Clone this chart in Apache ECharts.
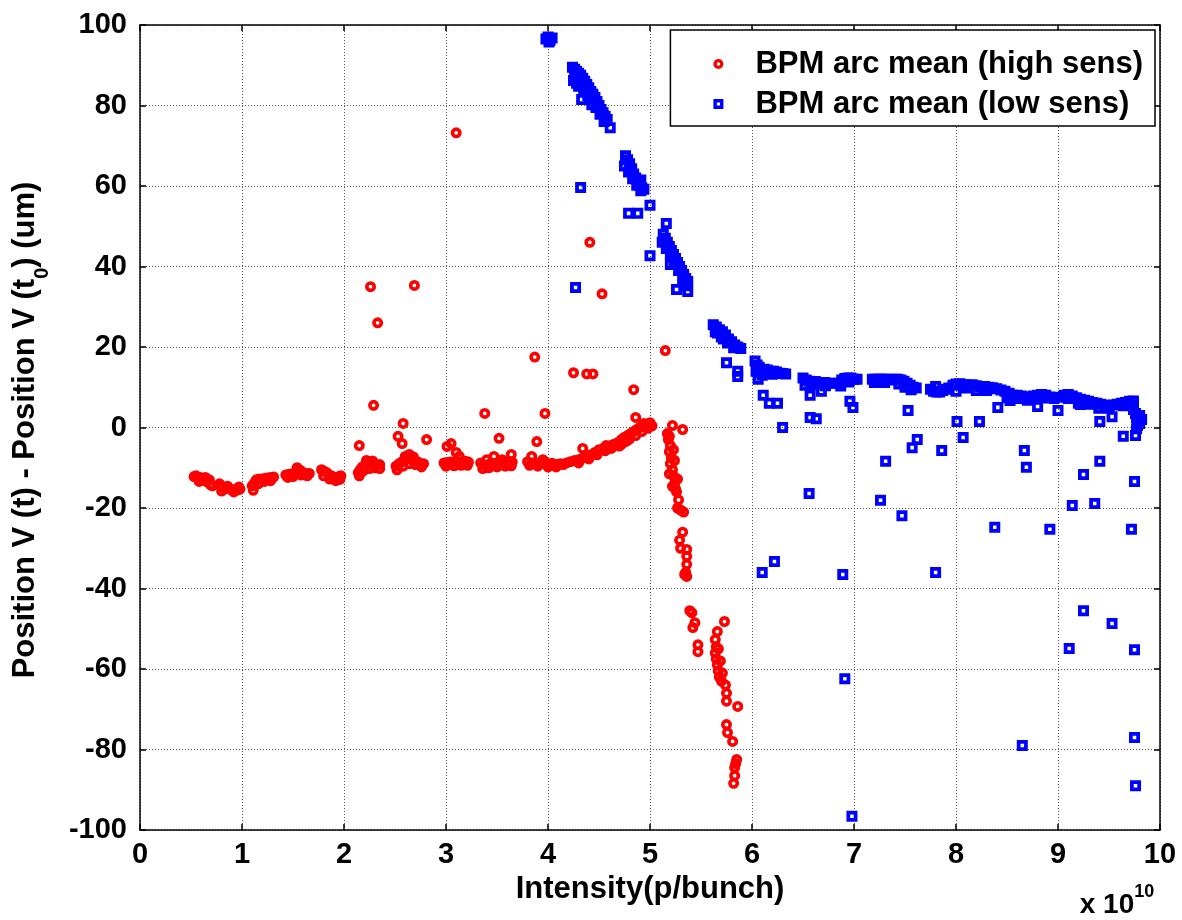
<!DOCTYPE html>
<html>
<head>
<meta charset="utf-8">
<script src="https://cdn.jsdelivr.net/npm/echarts@6/dist/echarts.min.js"></script>
<style>
  html, body { margin: 0; padding: 0; background: #fff; }
  #main { width: 1182px; height: 920px; }
</style>
</head>
<body>
<div id="main"></div>
<script>
// intensity in units of 1e10 p/bunch, position difference in um

// high sens: low intensity band
var highBand = [
  [0.53,-12.2],[0.55,-12.0],[0.57,-12.6],[0.59,-12.4],[0.61,-13.0],[0.63,-13.2],[0.66,-13.5],[0.69,-14.2],[0.71,-14.5],
  [0.78,-14.0],[0.80,-14.6],[0.82,-15.0],[0.85,-15.2],[0.88,-15.3],[0.90,-15.5],[0.93,-15.4],[0.96,-15.5],[0.98,-15.3],
  [1.10,-14.5],[1.12,-13.8],[1.14,-13.0],[1.17,-12.8],[1.20,-12.8],[1.23,-12.6],[1.26,-12.5],[1.29,-12.4],[1.31,-12.3],
  [1.43,-11.8],[1.46,-11.6],[1.49,-11.5],[1.52,-11.5],[1.55,-10.8],[1.57,-10.6],[1.60,-11.2],[1.63,-11.4],[1.66,-11.4],[1.54,-10.0],
  [1.78,-10.5],[1.80,-10.8],[1.83,-11.2],[1.86,-11.8],[1.89,-12.2],[1.92,-12.4],[1.95,-12.2],[1.97,-12.0],
  [2.14,-11.2],[2.16,-10.5],[2.18,-9.8],[2.20,-9.5],[2.23,-9.0],[2.26,-9.2],[2.29,-9.1],[2.32,-9.3],[2.35,-9.2],[2.22,-8.2],
  [2.51,-9.6],[2.54,-9.0],[2.57,-8.5],[2.60,-8.0],[2.63,-7.6],[2.66,-8.0],[2.69,-8.2],[2.72,-8.5],[2.75,-9.0],[2.78,-9.0],[2.64,-6.7],
  [2.98,-8.8],[3.01,-8.7],[3.04,-8.6],[3.07,-8.6],[3.10,-8.5],[3.13,-8.5],[3.16,-8.6],[3.19,-8.4],[3.22,-8.6],[3.13,-7.2],
  [3.34,-8.8],[3.37,-9.3],[3.40,-9.4],[3.43,-9.0],[3.46,-8.9],[3.50,-9.0],[3.54,-8.9],[3.58,-8.8],[3.62,-8.8],[3.65,-8.6],[3.47,-7.2],
  [3.80,-8.5],[3.84,-8.8],[3.88,-8.9],[3.92,-8.8],[3.96,-8.7],[4.00,-9.0],[4.04,-8.9],[4.08,-9.2],[4.12,-9.0],[3.84,-7.2],
  [4.15,-9.2],[4.18,-8.8],[4.22,-8.5],[4.26,-8.2],[4.30,-8.0],[4.34,-7.6],[4.38,-7.2],[4.42,-6.8],[4.46,-6.2],[4.50,-5.5],
  [4.55,-5.0],[4.60,-4.6],[4.64,-4.2],[4.68,-3.8],[4.72,-3.0],[4.75,-2.4],[4.78,-2.0],[4.81,-1.5],[4.84,-1.0],[4.87,-0.5],
  [4.90,0.0],[4.93,0.3],[4.96,0.6],[4.99,0.8],[5.02,0.4],[4.72,-4.2],[4.76,-3.5],[4.80,-2.8]
];

// high sens: second layer of the same band (spread of the clusters)
var highBandSpread = [
  [0.58,-13.4],[0.64,-12.4],[0.68,-13.0],
  [0.80,-15.8],[0.86,-14.6],[0.92,-16.0],[0.97,-14.8],
  [1.11,-15.6],[1.16,-14.0],[1.22,-13.4],[1.28,-13.2],
  [1.45,-12.4],[1.50,-12.2],[1.58,-11.8],[1.64,-12.0],
  [1.80,-12.0],[1.86,-12.8],[1.92,-13.2],[1.96,-12.9],
  [2.15,-12.0],[2.19,-10.8],[2.25,-10.2],[2.30,-10.0],[2.35,-10.2],[2.28,-8.3],
  [2.52,-10.5],[2.58,-9.6],[2.64,-9.0],[2.70,-9.2],[2.76,-9.8],[2.60,-7.2],[2.68,-7.3],
  [3.00,-9.6],[3.08,-9.5],[3.15,-9.4],[3.21,-9.4],
  [3.36,-10.2],[3.42,-10.0],[3.50,-9.8],[3.58,-9.6],[3.64,-9.5],[3.40,-8.0],[3.55,-8.0],
  [3.82,-9.4],[3.90,-9.6],[4.00,-9.8],[4.08,-9.8],[3.95,-8.0],
  [4.30,-8.8],[4.40,-7.8],[4.48,-6.8],[4.56,-5.8],[4.62,-5.2],[4.70,-4.6],[4.78,-3.2],[4.86,-2.0],[4.92,-1.0],[4.98,-0.2],[5.00,1.2],[4.94,1.0]
];

// high sens: isolated points
var highOutliers = [
  [3.10,73.2],[2.26,35.0],[2.69,35.3],[2.33,26.0],[4.41,46.0],[4.53,33.2],[3.87,17.5],[4.25,13.6],[4.38,13.3],[4.44,13.3],
  [2.29,5.5],[2.58,1.0],[2.15,-4.5],[2.53,-2.2],[2.57,-4.0],[2.81,-3.0],[3.01,-4.7],[3.05,-4.0],[3.10,-6.2],[3.38,3.5],
  [3.52,-2.7],[3.64,-6.7],[3.97,3.5],[3.89,-3.5],[4.34,-5.2],[4.84,9.4],[4.86,2.5],[5.15,19.1],[4.57,-4.5]
];

// high sens: steep drop above 5e10
var highDrop = [
  [5.22,0.5],[5.32,-0.5],[5.17,-1.5],[5.18,-3.0],[5.20,-4.5],[5.19,-6.0],[5.21,-7.5],[5.20,-9.0],[5.22,-10.5],[5.23,-12.0],
  [5.25,-13.0],[5.24,-14.0],[5.22,-14.6],[5.26,-16.0],[5.28,-18.0],[5.27,-20.0],[5.30,-20.5],[5.33,-21.0],[5.32,-26.0],[5.29,-28.0],
  [5.30,-30.0],[5.36,-30.3],[5.36,-32.0],[5.36,-34.0],[5.35,-36.0],[5.36,-37.0],[5.34,-36.5],[5.39,-45.5],[5.41,-46.0],[5.44,-48.5],
  [5.42,-49.7],[5.47,-54.0],[5.47,-55.7],[5.73,-48.2],[5.66,-50.7],[5.64,-52.7],[5.65,-54.5],[5.64,-56.0],[5.65,-57.5],[5.66,-59.0],
  [5.67,-60.5],[5.68,-62.0],[5.70,-63.0],[5.74,-64.0],[5.75,-66.0],[5.75,-68.0],[5.86,-69.3],[5.75,-73.8],[5.76,-75.8],[5.81,-78.0],
  [5.85,-82.5],[5.84,-83.5],[5.83,-84.5],[5.83,-86.5],[5.82,-88.4],
  [5.19,-2.2],[5.23,-5.5],[5.24,-8.2],[5.19,-11.5],[5.27,-12.8],[5.25,-15.2],[5.67,-55.0],[5.69,-58.0],[5.71,-61.0]
];

// low sens: main trend
var lowMain = [
  [3.98,96.5],[4.00,97.0],[4.02,96.2],[4.04,96.8],[4.01,95.8],
  [4.24,89.5],[4.26,89.0],[4.28,88.5],[4.30,88.0],[4.32,87.5],[4.34,86.8],[4.36,86.0],[4.38,85.2],[4.40,84.4],[4.42,83.5],
  [4.44,82.8],[4.46,82.0],[4.48,81.0],[4.50,80.0],[4.52,79.0],[4.54,78.2],[4.56,77.3],[4.58,76.5],[4.25,86.2],[4.28,85.5],[4.30,84.8],
  [4.76,67.5],[4.78,66.5],[4.80,65.5],[4.82,64.3],[4.84,63.0],[4.86,62.0],[4.88,61.0],[4.90,60.2],[4.92,59.5],[4.94,59.2],[4.91,61.5],
  [5.13,48.0],[5.15,47.0],[5.17,46.0],[5.19,45.0],[5.21,44.0],[5.23,43.0],[5.25,42.0],[5.27,41.0],[5.29,40.0],[5.31,39.0],[5.33,38.0],[5.35,37.0],[5.37,36.3],
  [5.62,25.5],[5.65,25.0],[5.68,24.3],[5.71,23.8],[5.74,23.0],[5.77,22.0],[5.80,21.3],[5.83,20.5],[5.86,20.0],[5.89,19.6],[5.66,23.5],[5.72,22.0],
  [6.03,16.5],[6.05,15.5],[6.07,15.0],[6.04,14.0],[6.08,13.8],[6.12,14.5],[6.15,14.3],[6.18,14.0],[6.21,14.0],[6.24,13.8],[6.27,13.5],[6.30,13.4],[6.33,13.3],[6.06,12.0],
  [6.50,12.3],[6.53,11.8],[6.56,11.5],[6.59,11.2],[6.62,11.4],[6.65,11.2],[6.68,11.0],[6.71,11.2],[6.74,11.0],[6.77,11.0],[6.52,10.5],
  [6.85,11.0],[6.88,11.8],[6.91,12.2],[6.94,12.3],[6.97,12.3],[7.00,12.0],[7.03,12.0],[6.87,10.3],
  [7.18,12.0],[7.21,12.0],[7.24,12.0],[7.27,12.0],[7.30,12.0],[7.33,12.0],[7.36,11.8],[7.20,11.2],[7.30,11.2],
  [7.40,12.0],[7.43,12.0],[7.46,11.8],[7.49,11.5],[7.52,11.0],[7.55,10.5],[7.58,10.0],[7.61,9.8],[7.44,10.8],[7.50,10.0],
  [7.75,9.5],[7.78,9.0],[7.81,8.8],[7.84,8.8],[7.87,9.2],[7.90,9.5],[7.93,9.8],[7.80,10.2],
  [7.97,10.5],[8.00,10.8],[8.04,10.9],[8.08,10.6],[8.12,10.5],[8.16,10.6],[8.20,10.4],[8.24,10.2],[8.28,10.2],[8.32,10.0],
  [8.36,9.9],[8.40,9.6],[8.44,9.3],[8.00,9.0],[8.20,9.2],
  [8.48,9.0],[8.52,8.5],[8.56,8.0],[8.60,8.0],[8.64,7.8],[8.68,7.6],[8.72,7.6],[8.76,7.8],[8.80,8.0],[8.84,8.2],[8.88,8.0],
  [8.92,7.6],[8.96,7.2],[8.50,7.4],[8.70,6.8],
  [9.02,7.5],[9.06,8.0],[9.10,8.2],[9.14,7.8],[9.18,7.4],[9.22,7.0],[9.26,6.8],[9.30,6.5],[9.34,6.2],[9.38,6.0],[9.42,5.8],
  [9.46,5.5],[9.50,5.4],[9.54,5.6],[9.58,5.8],[9.62,6.0],[9.66,6.2],[9.70,6.5],[9.74,6.6],[9.20,6.0],[9.40,4.8],
  [9.72,5.5],[9.74,4.5],[9.76,3.5],[9.77,2.5],[9.78,1.5],[9.78,0.5],[9.77,-0.3],[9.80,3.0],[9.82,2.0],[9.80,1.0]
];

// low sens: second layer of the steep segments
var lowMainSpread = [
  [4.27,86.8],[4.31,85.5],[4.35,84.0],[4.39,82.5],[4.43,81.2],[4.47,79.5],[4.51,77.8],[4.55,76.0],
  [4.75,65.0],[4.79,63.5],[4.83,61.8],[4.87,60.2],[4.91,58.8],
  [5.12,46.0],[5.16,44.5],[5.20,43.0],[5.24,41.0],[5.28,39.0],[5.32,37.0],[5.36,35.2],
  [5.64,23.8],[5.70,22.5],[5.76,21.0],[5.82,19.8],
  [6.10,13.0],[6.20,13.2],[6.60,10.6],[6.72,10.4],[6.95,11.3],[7.25,11.2],[7.56,9.4],[8.10,9.8],[8.30,9.2],
  [8.60,7.2],[8.85,7.3],[9.10,7.2],[9.30,5.8],[9.50,4.8],[9.64,5.4]
];

// low sens: isolated points
var lowOutliers = [
  [4.33,81.5],[4.43,80.2],[4.61,74.5],[4.32,59.6],[5.00,55.2],[4.79,53.2],[4.88,53.2],[5.16,50.7],[5.00,42.7],[4.27,34.8],
  [5.20,40.5],[5.26,34.3],[5.37,33.8],[5.75,16.1],[5.86,12.7],[5.86,14.0],
  [6.11,8.0],[6.17,6.0],[6.25,6.0],[6.30,0.0],[6.10,-36.0],[6.22,-33.3],
  [6.57,8.0],[6.68,9.0],[6.57,2.5],[6.63,2.2],[6.56,-16.4],
  [6.96,6.5],[6.99,5.0],[6.89,-36.5],[6.91,-62.4],[6.98,-96.6],
  [7.53,4.2],[7.62,-3.0],[7.57,-5.0],[7.31,-8.4],[7.26,-18.1],[7.47,-21.9],[7.80,-36.0],
  [7.86,-5.7],[8.01,1.5],[8.23,1.5],[8.07,-2.5],[8.41,5.0],[8.38,-24.8],
  [8.53,6.7],[8.80,5.2],[9.00,4.2],[8.67,-5.7],[8.69,-9.9],[8.65,-79.0],[8.92,-25.3],
  [9.22,5.7],[9.41,1.5],[9.53,2.7],[9.64,-2.2],[9.76,-2.0],[9.25,-11.7],[9.41,-8.4],[9.75,-13.4],[9.14,-19.4],
  [9.36,-18.9],[9.72,-25.3],[9.25,-45.5],[9.53,-48.7],[9.11,-54.9],[9.75,-55.2],[9.75,-77.0],[9.76,-89.0]
];

var xTicks = [0, 10, 1];   // min, max, step
var yTicks = [-100, 100, 20];

var font = 'Liberation Sans, Arial, sans-serif';
// matlab style open markers: ring and hollow square
var ringSymbol = 'path://M0,-5A5,5 0 1,1 0,5A5,5 0 1,1 0,-5ZM0,-1.7A1.7,1.7 0 1,0 0,1.7A1.7,1.7 0 1,0 0,-1.7Z';
var boxSymbol = 'path://M0,0H10V10H0ZM3.4,3.4V6.6H6.6V3.4Z';

var chart = echarts.init(document.getElementById('main'));

var hiddenAxis = {
  axisLine: { show: true, onZero: false, lineStyle: { color: '#000', width: 1.5 } },
  axisTick: { show: true, inside: true, length: 6, lineStyle: { color: '#000', width: 1.5 } },
  axisLabel: { show: false },
  splitLine: { show: false }
};

var option = {
  animation: false,
  backgroundColor: '#fff',
  grid: { left: 140, right: 22, top: 25, bottom: 90 },
  legend: {
    orient: 'vertical',
    right: 27,
    top: 30,
    padding: [17, 12, 5, 43],
    itemGap: 6,
    itemWidth: 10,
    itemHeight: 10,
    backgroundColor: '#fff',
    borderColor: '#000',
    borderWidth: 1.5,
    formatter: function (name) { return '{g|}' + name; },
    textStyle: {
      color: '#000', fontSize: 31, fontWeight: 'bold', fontFamily: font, lineHeight: 34,
      rich: { g: { width: 27 } }
    },
    data: ['BPM arc mean (high sens)', 'BPM arc mean (low sens)']
  },
  xAxis: [{
    type: 'value', min: xTicks[0], max: xTicks[1], interval: xTicks[2],
    name: 'Intensity(p/bunch)', nameLocation: 'middle', nameGap: 43,
    nameTextStyle: { color: '#000', fontSize: 31, fontWeight: 'bold', fontFamily: font },
    axisLine: { show: true, onZero: false, lineStyle: { color: '#000', width: 1.5 } },
    axisTick: { show: true, inside: true, length: 6, lineStyle: { color: '#000', width: 1.5 } },
    axisLabel: { color: '#000', fontSize: 29, fontWeight: 'bold', fontFamily: font, margin: 10 },
    splitLine: { show: true, lineStyle: { color: '#555', type: [1, 2], width: 1 } }
  }, Object.assign({
    type: 'value', position: 'top', min: xTicks[0], max: xTicks[1], interval: xTicks[2]
  }, hiddenAxis)],
  yAxis: [{
    type: 'value', min: yTicks[0], max: yTicks[1], interval: yTicks[2],
    axisLine: { show: true, onZero: false, lineStyle: { color: '#000', width: 1.5 } },
    axisTick: { show: true, inside: true, length: 6, lineStyle: { color: '#000', width: 1.5 } },
    axisLabel: { color: '#000', fontSize: 29, fontWeight: 'bold', fontFamily: font, margin: 13 },
    splitLine: { show: true, lineStyle: { color: '#555', type: [1, 2], width: 1 } }
  }, Object.assign({
    type: 'value', position: 'right', min: yTicks[0], max: yTicks[1], interval: yTicks[2]
  }, hiddenAxis)],
  graphic: [{
    type: 'text',
    x: 31, y: 430,
    rotation: Math.PI / 2,
    style: {
      text: '{m|Position V (t) - Position V (t}{s|0}{m|) (um)}',
      align: 'center', verticalAlign: 'middle',
      rich: {
        m: { fontSize: 31, fontWeight: 'bold', fontFamily: font, fill: '#000', lineHeight: 42, verticalAlign: 'top' },
        s: { fontSize: 20, fontWeight: 'bold', fontFamily: font, fill: '#000', verticalAlign: 'bottom' }
      }
    }
  }, {
    type: 'text',
    x: 1117, y: 901,
    style: {
      text: '{b|x 10}{s|10}',
      align: 'center', verticalAlign: 'middle',
      rich: {
        b: { fontSize: 28, fontWeight: 'bold', fontFamily: font, fill: '#000', lineHeight: 36, verticalAlign: 'bottom' },
        s: { fontSize: 18, fontWeight: 'bold', fontFamily: font, fill: '#000', verticalAlign: 'top' }
      }
    }
  }],
  series: [{
    name: 'BPM arc mean (high sens)',
    type: 'scatter',
    symbol: ringSymbol,
    symbolSize: 11,
    itemStyle: { color: '#ff0000', opacity: 1 },
    data: highBand.concat(highBandSpread, highOutliers, highDrop)
  }, {
    name: 'BPM arc mean (low sens)',
    type: 'scatter',
    symbol: boxSymbol,
    symbolSize: 11,
    itemStyle: { color: '#0000ff', opacity: 1 },
    data: lowMain.concat(lowMainSpread, lowOutliers)
  }]
};

chart.setOption(option);
</script>
</body>
</html>
